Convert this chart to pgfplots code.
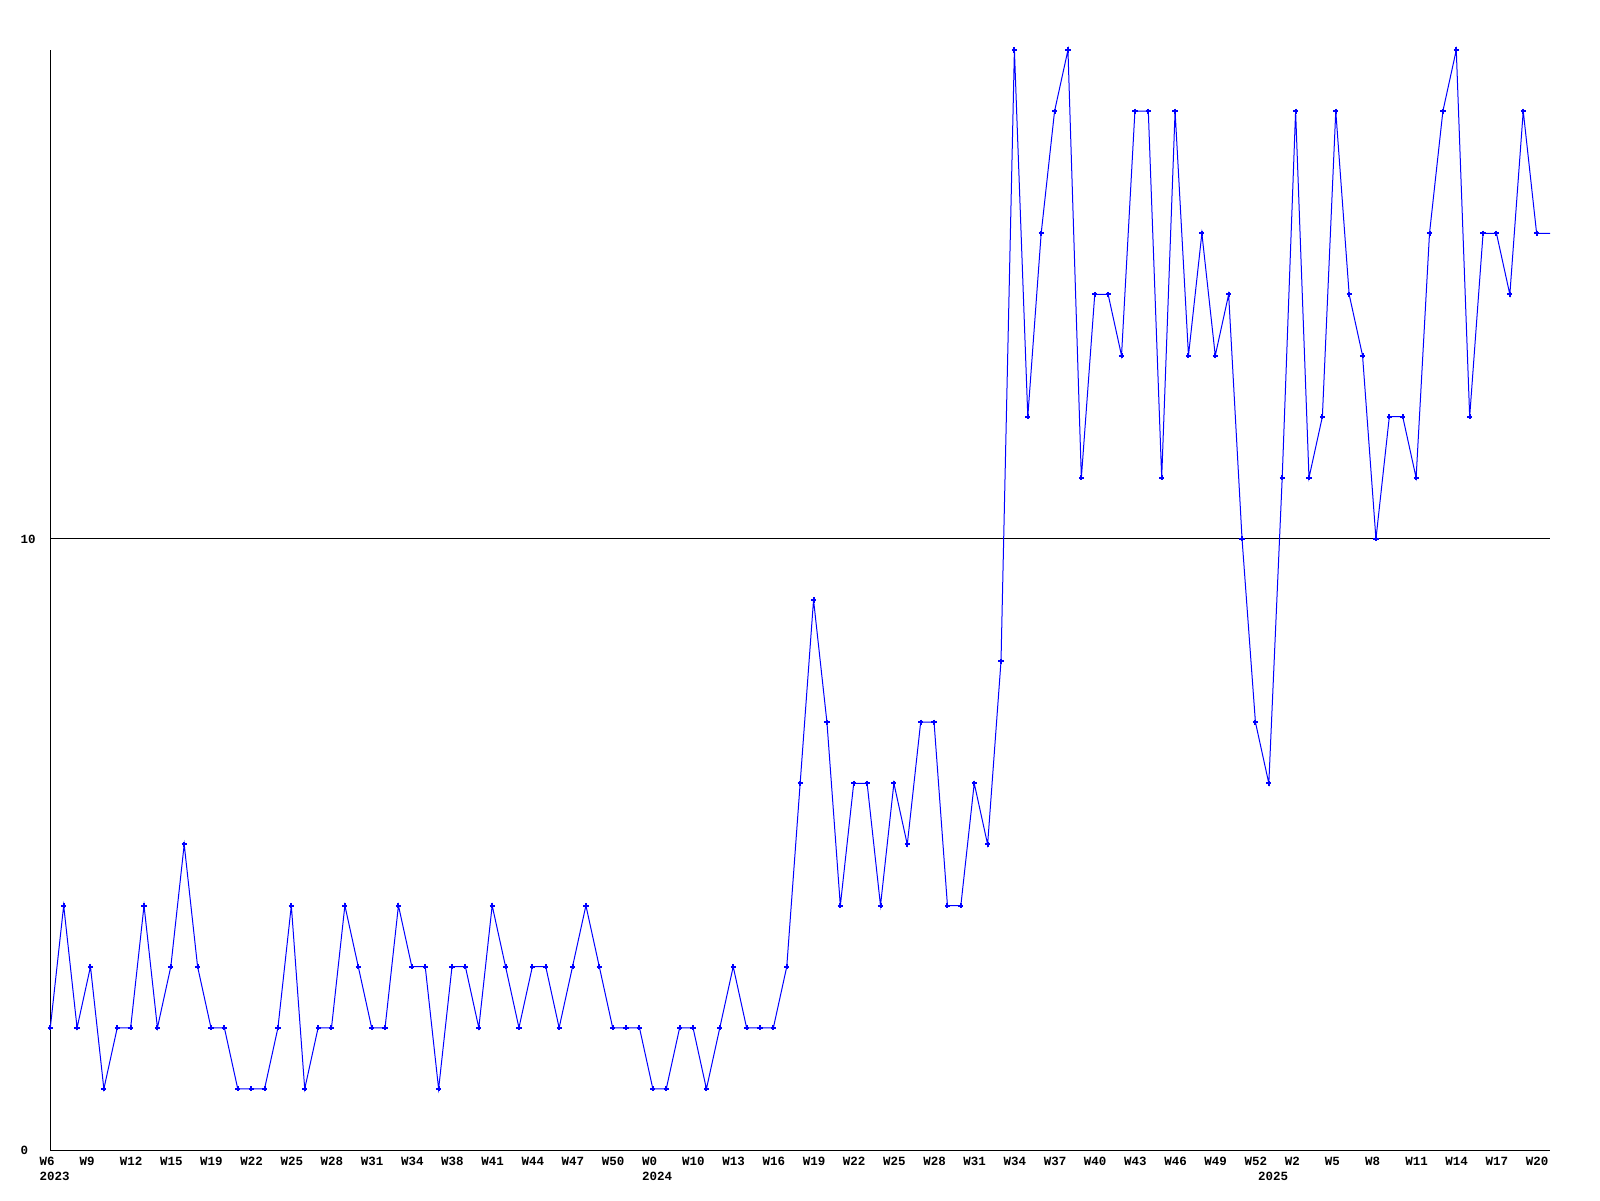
\documentclass[border=0pt]{standalone}
\usepackage{fontspec}
\setmainfont{Liberation Mono}
\usepackage{pgfplots}
\pgfplotsset{compat=1.18}
\usepackage{pgfplotstable}
\pgfplotstableread{
x y
0 2
1 4
2 2
3 3
4 1
5 2
6 2
7 4
8 2
9 3
10 5
11 3
12 2
13 2
14 1
15 1
16 1
17 2
18 4
19 1
20 2
21 2
22 4
23 3
24 2
25 2
26 4
27 3
28 3
29 1
30 3
31 3
32 2
33 4
34 3
35 2
36 3
37 3
38 2
39 3
40 4
41 3
42 2
43 2
44 2
45 1
46 1
47 2
48 2
49 1
50 2
51 3
52 2
53 2
54 2
55 3
56 6
57 9
58 7
59 4
60 6
61 6
62 4
63 6
64 5
65 7
66 7
67 4
68 4
69 6
70 5
71 8
72 18
73 12
74 15
75 17
76 18
77 11
78 14
79 14
80 13
81 17
82 17
83 11
84 17
85 13
86 15
87 13
88 14
89 10
90 7
91 6
92 11
93 17
94 11
95 12
96 17
97 14
98 13
99 10
100 12
101 12
102 11
103 15
104 17
105 18
106 12
107 15
108 15
109 14
110 17
111 15
112 15
}\data
\begin{document}
\begin{tikzpicture}[x=1pt,y=1pt]
\useasboundingbox (0,0) rectangle (1600,1200);
\begin{axis}[
  at={(50.3pt,50pt)}, anchor=south west,
  scale only axis, width=1499.7pt, height=1100pt,
  xmin=0, xmax=112, ymin=0, ymax=18,
  axis x line*=bottom, axis y line*=left,
  axis line style={-, black, line width=1pt},
  ytick={0,10}, ymajorgrids, grid style={black, line width=1pt},
  major tick length=0pt,
  xtick={0,3,...,111},
  xticklabels={W6,W9,W12,W15,W19,W22,W25,W28,W31,W34,W38,W41,W44,W47,W50,W0,W10,W13,W16,W19,W22,W25,W28,W31,W34,W37,W40,W43,W46,W49,W52,W2,W5,W8,W11,W14,W17,W20},
  ticklabel style={font=\bfseries\fontsize{12.5}{15}\selectfont, inner sep=0pt},
  xticklabel style={anchor=north west, xshift=-11pt, yshift=-7pt},
  yticklabel style={anchor=west, xshift=-30pt},
  /pgf/number format/assume math mode=true,
  clip=false,
]
\addplot[color={rgb,255:red,0;green,0;blue,255}, line width=1pt, no marks] table[x=x,y=y] {\data};
\addplot[color={rgb,255:red,0;green,0;blue,255}, only marks, mark=+, mark size=2.6pt, mark options={line width=2pt}, restrict x to domain=0:111] table[x=x,y=y] {\data};
\node[anchor=north west, inner sep=0pt, font=\bfseries\fontsize{12.5}{15}\selectfont, xshift=-11pt, yshift=-22pt] at (axis cs:0,0) {2023};
\node[anchor=north west, inner sep=0pt, font=\bfseries\fontsize{12.5}{15}\selectfont, xshift=-11pt, yshift=-22pt] at (axis cs:45,0) {2024};
\node[anchor=north west, inner sep=0pt, font=\bfseries\fontsize{12.5}{15}\selectfont, xshift=-11pt, yshift=-22pt] at (axis cs:91,0) {2025};
\end{axis}
\end{tikzpicture}
\end{document}
